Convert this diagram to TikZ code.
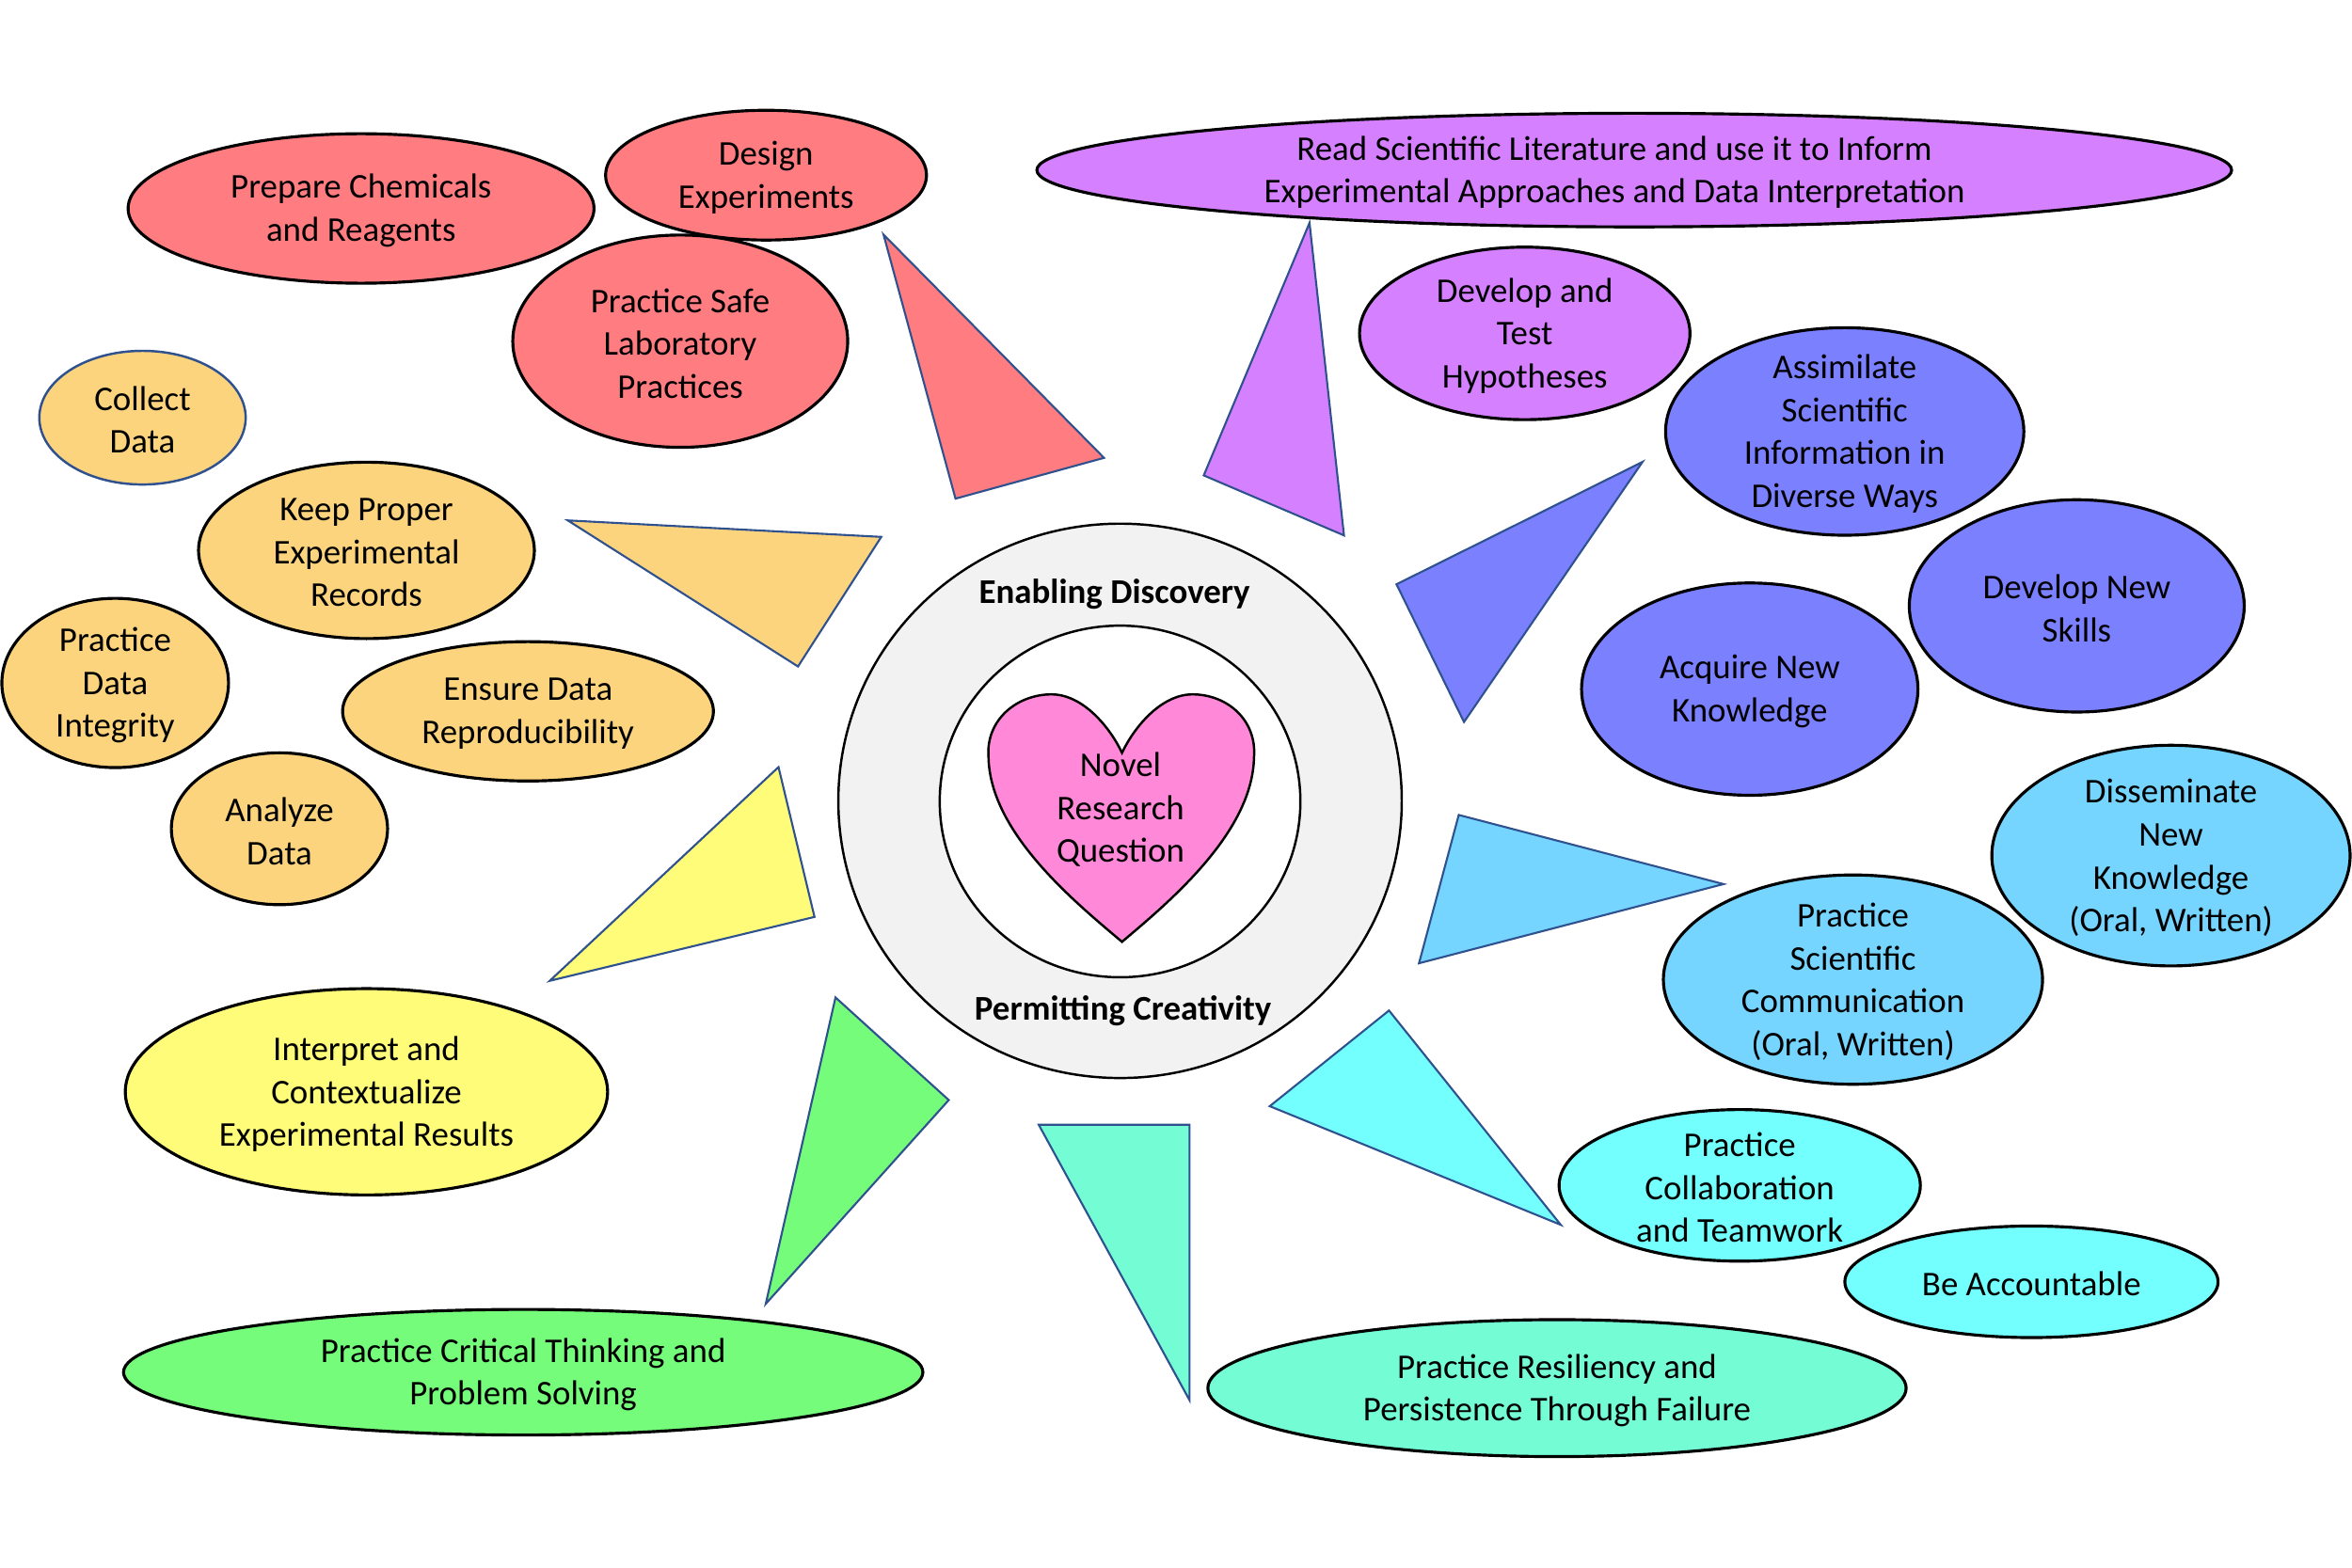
\documentclass[tikz,border=0pt]{standalone}
\usepackage{fontspec}
\setmainfont{Carlito}
\usetikzlibrary{shapes.geometric}
\definecolor{cred}{HTML}{FF7C80}
\definecolor{corange}{HTML}{FDD47E}
\definecolor{cyellow}{HTML}{FFFC7A}
\definecolor{cgreen}{HTML}{74FC7A}
\definecolor{caqua}{HTML}{74FCD5}
\definecolor{ccyan}{HTML}{74FFFF}
\definecolor{clblue}{HTML}{76D5FF}
\definecolor{cblue}{HTML}{7B80FF}
\definecolor{cpurple}{HTML}{D580FF}
\definecolor{cpink}{HTML}{FF88D8}
\definecolor{cgray}{HTML}{F2F2F2}
\definecolor{triblue}{HTML}{2F528F}
\tikzset{
  ell/.style={ellipse, draw=black, line width=0.9pt, inner sep=0pt},
  sz/.style 2 args={minimum width=#1*0.90454pt, minimum height=#2*0.90454pt},
  tri/.style={draw=triblue, line width=0.6pt, line join=miter},
  txt/.style={align=center, font=\fontsize{10.5}{12.98}\selectfont, inner sep=0pt, yshift=-0.7pt},
  bold/.style={font=\fontsize{10.5}{12.98}\selectfont\bfseries, inner sep=0pt}
}
\begin{document}
\begin{tikzpicture}[x=0.0159439cm, y=-0.0159439cm]
\useasboundingbox (0,0) rectangle (1568,1045.5);
\fill[white] (0,0) rectangle (1568,1045.5);

% central rings
\node[ellipse, draw=black, line width=0.7pt, fill=cgray, inner sep=0pt, sz={188.4}{185.4}] (outer) at (746.7,534) {};
\node[ellipse, draw=black, line width=0.7pt, fill=white, inner sep=0pt, sz={120.6}{117.6}] (inner) at (746.7,534.4) {};
\draw[fill=cpink, line width=0.7pt, line join=miter]
  (748,628) .. controls (716,601) and (660,555) .. (659,505)
  .. controls (657,480) and (678,463) .. (701,463)
  .. controls (722,463) and (740,485) .. (748,502)
  .. controls (756,485) and (774,463) .. (795,463)
  .. controls (818,463) and (838,480) .. (836,505)
  .. controls (835,555) and (780,601) .. (748,628) -- cycle;
\node[txt] (heart) at (747,538.3) {Novel\\Research\\Question};
\node[bold, anchor=base] (enab) at (743,402.5) {Enabling Discovery};
\node[bold, anchor=base] (perm) at (748.7,680.2) {Permitting Creativity};

% triangles
\draw[tri, fill=cred] (589,156.4) -- (736,305.3) -- (637,332.5) -- cycle;
\draw[tri, fill=corange] (378.5,347) -- (587.5,358) -- (532,444.4) -- cycle;
\draw[tri, fill=cyellow] (519,511.5) -- (543,611.4) -- (366.5,654) -- cycle;
\draw[tri, fill=cgreen] (557,665.1) -- (632.5,733.5) -- (510.5,869.4) -- cycle;
\draw[tri, fill=caqua] (692.5,750) -- (793,750) -- (793,933.6) -- cycle;
\draw[tri, fill=ccyan] (926,673.8) -- (846.5,737.6) -- (1040.5,816.7) -- cycle;
\draw[tri, fill=clblue] (972.5,543.4) -- (1149,589.5) -- (946,642.3) -- cycle;
\draw[tri, fill=cblue] (1095,308) -- (931,389.6) -- (976,481.4) -- cycle;
\draw[tri, fill=cpurple] (873,148.6) -- (802.5,317) -- (896,357) -- cycle;

% red group
\node[ell, fill=cred, sz={155.8}{50}] (prep) at (240.7,139) {};
\node[txt] at (prep.center) {Prepare Chemicals\\and Reagents};
\node[ell, fill=cred, sz={107.3}{43.4}] (design) at (510.7,116.8) {};
\node[txt] at (design.center) {Design\\Experiments};
\node[ell, fill=cred, sz={112}{71}] (safe) at (453.5,227.5) {};
\node[txt] at (safe.center) {Practice Safe\\Laboratory\\Practices};

% orange group
\node[ell, draw=triblue, line width=0.7pt, fill=corange, sz={69}{44.7}] (collect) at (95,278.5) {};
\node[txt] at (collect.center) {Collect\\Data};
\node[ell, fill=corange, sz={112.3}{59}] (keep) at (244.3,367) {};
\node[txt] at (keep.center) {Keep Proper\\Experimental\\Records};
\node[ell, fill=corange, sz={75.8}{56.6}] (integ) at (76.8,455.4) {};
\node[txt] at (integ.center) {Practice\\Data\\Integrity};
\node[ell, fill=corange, sz={124}{46.6}] (ensure) at (352,474.3) {};
\node[txt] at (ensure.center) {Ensure Data\\Reproducibility};
\node[ell, fill=corange, sz={72.3}{50.8}] (analyze) at (186.3,552.6) {};
\node[txt] at (analyze.center) {Analyze\\Data};

% yellow, green, aqua
\node[ell, fill=cyellow, sz={161.3}{69}] (interp) at (244.3,728) {};
\node[txt] at (interp.center) {Interpret and\\Contextualize\\Experimental Results};
\node[ell, fill=cgreen, sz={267.3}{42}] (critical) at (348.8,915) {};
\node[txt] at (critical.center) {Practice Critical Thinking and\\Problem Solving};
\node[ell, fill=caqua, sz={233.5}{45.8}] (resil) at (1038,925.6) {};
\node[txt] at (resil.center) {Practice Resiliency and\\Persistence Through Failure};

% cyan group
\node[ell, fill=ccyan, sz={120.8}{50.7}] (collab) at (1159.8,790.4) {};
\node[txt] at (collab.center) {Practice\\Collaboration\\and Teamwork};
\node[ell, fill=ccyan, sz={124.8}{37.3}] (account) at (1354.3,854.7) {};
\node[txt] at (account.center) {Be Accountable};

% light blue group
\node[ell, fill=clblue, sz={119.8}{73.8}] (dissem) at (1447.3,570.5) {};
\node[txt] at (dissem.center) {Disseminate\\New\\Knowledge\\(Oral, Written)};
\node[ell, fill=clblue, sz={126.8}{70}] (comm) at (1235.3,653.2) {};
\node[txt] at (comm.center) {Practice\\Scientific\\Communication\\(Oral, Written)};

% blue group
\node[ell, fill=cblue, sz={112}{71}] (skills) at (1384.5,404) {};
\node[txt] at (skills.center) {Develop New\\Skills};
\node[ell, fill=cblue, sz={112.5}{71}] (acquire) at (1166.5,459.5) {};
\node[txt] at (acquire.center) {Acquire New\\Knowledge};
\node[ell, fill=cblue, sz={119.8}{69.4}] (assim) at (1229.8,287.7) {};
\node[txt] at (assim.center) {Assimilate\\Scientific\\Information in\\Diverse Ways};

% purple group
\node[ell, fill=cpurple, sz={110.5}{57.7}] (hyp) at (1016.5,222.3) {};
\node[txt] at (hyp.center) {Develop and\\Test\\Hypotheses};
\node[ell, fill=cpurple, sz={399.5}{38}] (read) at (1089.5,113.4) {};
\node[txt] at ([xshift=-6pt]read.center) {Read Scientific Literature and use it to Inform\\Experimental Approaches and Data Interpretation};
\end{tikzpicture}
\end{document}
